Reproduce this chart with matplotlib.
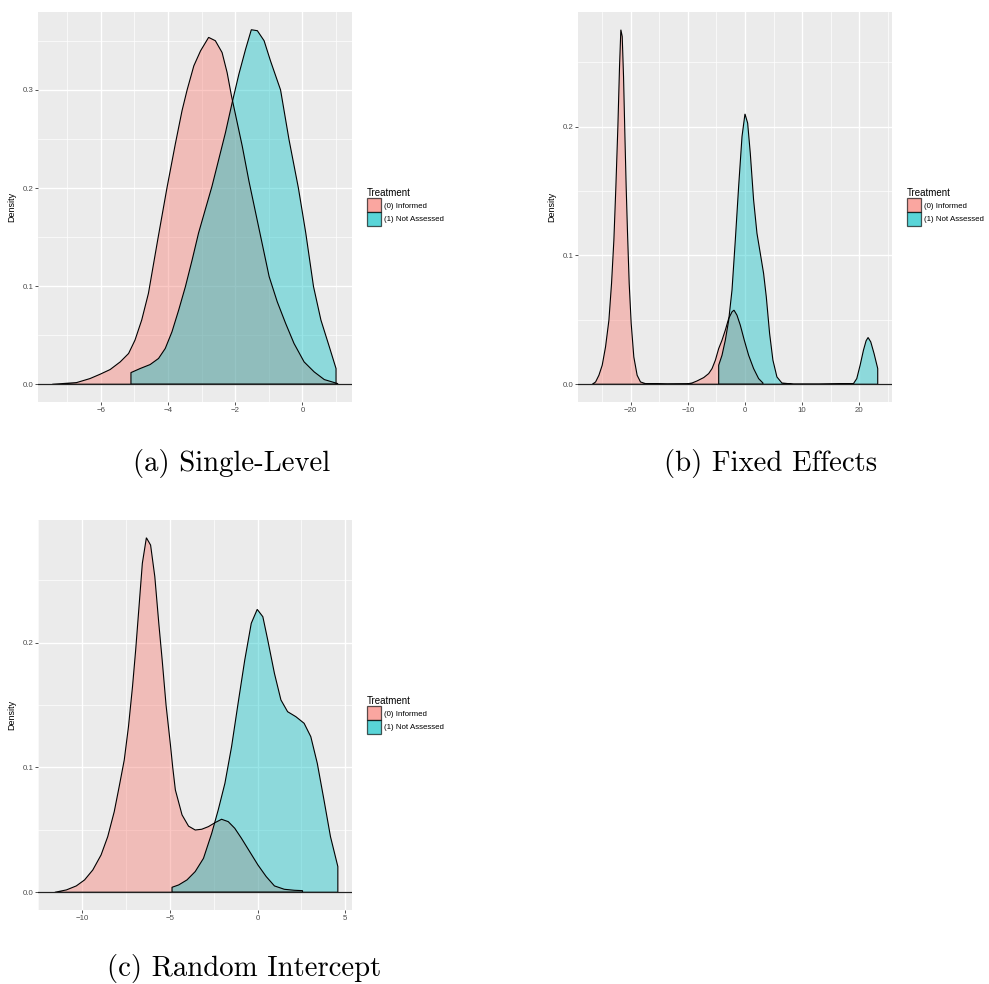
import matplotlib
matplotlib.use("Agg")
import matplotlib.pyplot as plt
from matplotlib.patches import Patch

plt.rcParams['font.family'] = ['Liberation Sans', 'DejaVu Sans']

# (a) Single-Level
a_inf_x = [-7.44, -6.72, -6.32, -6.02, -5.72, -5.42, -5.17, -4.98, -4.78, -4.58, -4.30, -4.03,
           -3.78, -3.58, -3.43, -3.23, -3.03, -2.79, -2.59, -2.39, -2.24, -2.11, -1.96, -1.79,
           -1.59, -1.39, -1.19, -0.99, -0.75, -0.50, -0.25, 0.05, 0.35, 0.65, 1.05]
a_inf_y = [0.0, 0.0017, 0.0058, 0.0102, 0.0150, 0.0228, 0.0314, 0.0450, 0.0655, 0.0927, 0.148, 0.200,
           0.245, 0.279, 0.300, 0.3246, 0.3399, 0.3536, 0.3502, 0.3382, 0.3178, 0.2939, 0.2700, 0.2428,
           0.2070, 0.1746, 0.1422, 0.1098, 0.0842, 0.0621, 0.0416, 0.0228, 0.0126, 0.0048, 0.0007]
a_not_x = [-5.10, -4.83, -4.53, -4.28, -4.08, -3.88, -3.68, -3.48, -3.28, -3.09, -2.89, -2.69,
           -2.49, -2.29, -2.09, -1.89, -1.69, -1.52, -1.34, -1.14, -0.95, -0.65, -0.40, -0.12,
           0.10, 0.33, 0.55, 0.80, 1.00]
a_not_y = [0.0119, 0.016, 0.0201, 0.0263, 0.0365, 0.0535, 0.0757, 0.0996, 0.1268, 0.1541, 0.1780, 0.2018,
           0.2291, 0.2564, 0.2871, 0.3161, 0.3416, 0.3614, 0.3604, 0.3502, 0.3297, 0.3000, 0.2496, 0.2001,
           0.1541, 0.0996, 0.0655, 0.0382, 0.016]

# (b) Fixed Effects
b_inf_x = [-26.72, -26.14, -25.56, -24.98, -24.40, -23.81, -23.35, -22.94, -22.59, -22.24, -21.95,
           -21.72, -21.48, -21.25, -21.02, -20.79, -20.55, -20.26, -19.91, -19.45, -18.87, -18.28,
           -17.41, -13.62, -10.13, -9.26, -8.38, -7.22, -6.35, -5.76, -5.18, -4.60, -4.02, -3.44,
           -2.85, -2.27, -1.92, -1.40, -0.82, -0.12, 0.64, 1.51, 2.39, 3.14]
b_inf_y = [0.0, 0.0018, 0.0070, 0.0148, 0.0290, 0.0497, 0.0782, 0.1119, 0.1534, 0.2000, 0.2466,
           0.2751, 0.2699, 0.2389, 0.1948, 0.1534, 0.1171, 0.0782, 0.0472, 0.0212, 0.0070, 0.0018,
           0.0005, 0.0002, 0.0003, 0.0010, 0.0026, 0.0052, 0.0083, 0.0122, 0.0187, 0.0277, 0.0342, 0.0420,
           0.0510, 0.0562, 0.0575, 0.0536, 0.0459, 0.0342, 0.0225, 0.0122, 0.0044, 0.0010]
b_not_x = [-4.60, -4.02, -3.44, -2.85, -2.27, -1.69, -1.11, -0.52, 0.0, 0.47, 0.93, 1.51, 2.10,
           2.68, 3.26, 3.73, 4.31, 4.89, 5.59, 6.46, 8.50, 13.0, 18.98, 19.56, 20.15, 20.73, 21.19,
           21.54, 22.01, 22.59, 23.23]
b_not_y = [0.0148, 0.0225, 0.0342, 0.0497, 0.0731, 0.1119, 0.1534, 0.1922, 0.2098, 0.2026, 0.1793,
           0.1430, 0.1171, 0.1016, 0.0860, 0.0679, 0.0394, 0.0187, 0.0057, 0.0010, 0.0001, 0.0001,
           0.0005, 0.0044, 0.0148, 0.0264, 0.0337, 0.0363, 0.0329, 0.0238, 0.0122]

# (c) Random Intercept
c_inf_x = [-11.54, -10.88, -10.32, -9.85, -9.38, -8.91, -8.53, -8.16, -7.88, -7.59, -7.35, -7.12,
           -6.94, -6.75, -6.56, -6.33, -6.09, -5.85, -5.62, -5.43, -5.21, -4.96, -4.83, -4.68, -4.30,
           -3.93, -3.55, -3.18, -2.80, -2.42, -2.05, -1.67, -1.30, -0.92, -0.45, 0.02, 0.49,
           0.96, 1.52, 2.09, 2.56]
c_inf_y = [0.0, 0.0019, 0.0051, 0.0099, 0.0179, 0.0299, 0.0446, 0.0646, 0.0846, 0.1060, 0.1327, 0.1648,
           0.1941, 0.2288, 0.2636, 0.2841, 0.2782, 0.2529, 0.2150, 0.1860, 0.1500, 0.1180, 0.1001, 0.0820,
           0.0620, 0.0530, 0.0499, 0.0505, 0.0526, 0.0558, 0.0585, 0.0566, 0.0513, 0.0433, 0.0326, 0.0219,
           0.0126, 0.0051, 0.0024, 0.0016, 0.0013]
c_not_x = [-4.87, -4.49, -4.02, -3.55, -3.08, -2.61, -2.24, -1.86, -1.48, -1.11, -0.73, -0.36,
           -0.02, 0.30, 0.58, 0.96, 1.33, 1.71, 2.18, 2.65, 3.03, 3.40, 3.78, 4.15, 4.57]
c_not_y = [0.004, 0.0059, 0.0099, 0.0166, 0.0272, 0.0473, 0.0660, 0.0873, 0.1167, 0.1514, 0.1861, 0.2155,
           0.2267, 0.2208, 0.2021, 0.1754, 0.1541, 0.1447, 0.1407, 0.1354, 0.1247, 0.1033, 0.0740, 0.0446,
           0.0206]

groups = ['(0) Informed', '(1) Not Assessed']
colors = ['#F8766D', '#00BFC4']

panels = [
    dict(curves=[(a_inf_x, a_inf_y), (a_not_x, a_not_y)], xticks=[-6, -4, -2, 0],
         xminor=[-7, -5, -3, -1, 1], yticks=[0.0, 0.1, 0.2, 0.3], yminor=[0.05, 0.15, 0.25, 0.35],
         rect=[38, 12, 352, 402], caption='(a) Single-Level', cap_xy=(232, 463)),
    dict(curves=[(b_inf_x, b_inf_y), (b_not_x, b_not_y)], xticks=[-20, -10, 0, 10, 20],
         xminor=[-25, -15, -5, 5, 15, 25], yticks=[0.0, 0.1, 0.2], yminor=[0.05, 0.15, 0.25],
         rect=[578, 12, 892, 402], caption='(b) Fixed Effects', cap_xy=(771, 463)),
    dict(curves=[(c_inf_x, c_inf_y), (c_not_x, c_not_y)], xticks=[-10, -5, 0, 5],
         xminor=[-12.5, -7.5, -2.5, 2.5], yticks=[0.0, 0.1, 0.2], yminor=[0.05, 0.15, 0.25],
         rect=[38, 520, 352, 910], caption='(c) Random Intercept', cap_xy=(244, 968)),
]

W, H = 989, 984
fig = plt.figure(figsize=(W / 100, H / 100), dpi=100)

for p in panels:
    l, t, r, b = p['rect']
    ax = fig.add_axes([l / W, 1 - b / H, (r - l) / W, (b - t) / H])
    ax.set_facecolor('#EBEBEB')
    allx = []
    ally = []
    for (xs, ys), col in zip(p['curves'], colors):
        px = [xs[0]] + list(xs) + [xs[-1]]
        py = [0.0] + list(ys) + [0.0]
        ax.fill(px, py, facecolor=col, alpha=0.4, zorder=2)
        ax.fill(px, py, facecolor='none', edgecolor='black', lw=0.8, zorder=3)
        allx += list(xs)
        ally += list(ys)
    ax.axhline(0, color='#222222', lw=0.9, zorder=4)
    xr = max(allx) - min(allx)
    ax.set_xlim(min(allx) - 0.05 * xr, max(allx) + 0.05 * xr)
    ymax = max(ally)
    ax.set_ylim(-0.05 * ymax, 1.05 * ymax)
    ax.set_xticks(p['xticks'])
    ax.set_xticks(p['xminor'], minor=True)
    ax.set_yticks(p['yticks'])
    ax.set_yticks(p['yminor'], minor=True)
    ax.set_yticklabels(['%.1f' % v for v in p['yticks']])
    ax.set_xticklabels([str(v).replace('-', '\u2212') for v in p['xticks']])
    ax.grid(which='major', color='white', lw=1.0, zorder=0)
    ax.grid(which='minor', color='white', lw=0.5, zorder=0)
    ax.set_axisbelow(True)
    for s in ax.spines.values():
        s.set_visible(False)
    ax.tick_params(which='major', length=2, width=0.6, color='#333333',
                   labelsize=5.7, labelcolor='#4D4D4D', pad=1.5)
    ax.tick_params(which='minor', length=0)
    ax.set_ylabel('Density', fontsize=6.5, labelpad=4)

    handles = [Patch(facecolor=c, alpha=0.65, edgecolor='black', lw=0.9) for c in colors]
    leg = ax.legend(handles, groups, title='Treatment', loc='center left',
                    bbox_to_anchor=(1.035, 0.5), frameon=False, fontsize=5.7,
                    title_fontsize=7, handlelength=1.75, handleheight=2.3,
                    labelspacing=0.0, handletextpad=0.45, borderpad=0, alignment='left')

    cx, cy = p['cap_xy']
    fig.text(cx / W, 1 - cy / H, p['caption'], family='cmr10', fontsize=20.7,
             ha='center', va='center')

fig.savefig('out.png', dpi=100)
